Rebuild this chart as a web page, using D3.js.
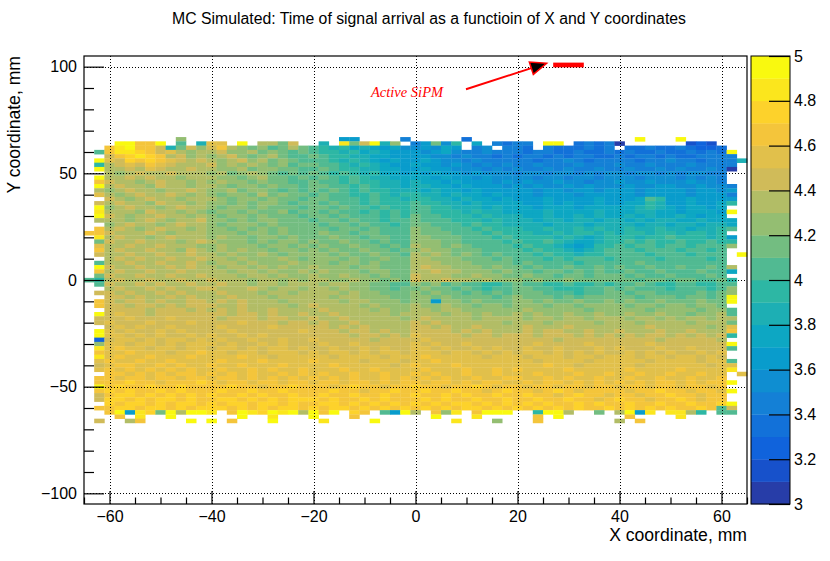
<!DOCTYPE html>
<html>
<head>
<meta charset="utf-8">
<script src="https://cdn.jsdelivr.net/npm/d3@7"></script>
<style>
  body { margin: 0; background: #fff; }
  svg { display: block; }
  text { font-family: "Liberation Sans", Arial, Helvetica, sans-serif; }
</style>
</head>
<body>
<div id="chart"></div>
<script>
// ---- data ----
const chartTitle = "MC Simulated: Time of signal arrival as a functioin of X and Y coordinates";
const xTitle = "X coordinate, mm";
const yTitle = "Y coordinate, mm";
const xTicks = [-60, -40, -20, 0, 20, 40, 60];
const yTicks = [-100, -50, 0, 50, 100];
const zTicks = [3, 3.2, 3.4, 3.6, 3.8, 4, 4.2, 4.4, 4.6, 4.8, 5];

// one letter per 2x2 mm bin, A = 3.0-3.1 ... T = 4.9-5.0, '.' = empty
const levelCodes = "ABCDEFGHIJKLMNOPQRST";
const binSize = 2;
const firstXEdge = -65;   // left edge of first column
const topYEdge = 67;      // top edge of first row
const segLengths = [2, 10, 10, 10, 10, 10, 11, 2];
const rows = [
  ".. .......M.. .......... ...GG....E .....D.... .......... ..T...T.... ..",
  ".. .TTQQT.K.I PP.T.NNLO. .I.SLOTIM. EGLFJ.H.ED EE.TT.DEDE A......BCB. ..",
  ".. QSTQQOILOM OQNMLMKLNL KJIJHIHGHF FGFHG.EF.E ED.EDDDEDE .DDEDDEDCCD ..",
  ".K QSSRQOPNMN NOMMNLMLKL KJJIJHIHGG GFGHFEEFEE EDEEDDEDDE DEDDEDDEDED T.",
  ".. OQRSRQNOMN MNOMLMNLKK LKJJIIHHGG GGFFEFEEDE DEEDEDEEDD EDEEDEDDEEE E.",
  ".T PORQRQPONO NMNOMNLMLK KKJIJIHGHG GHGFFEFEEE EEDEEFEDEE EEDEEFEEDEE EI",
  ".J NOPOQPONNN OMNMNMLMKL LKKJIJIHGG HGGFGFEFEF EEFEEEFEEE FEEFEEEFEEE E.",
  ".T NNONPONNON NMMNLMMLLK KLKJJIIHHG GHGGFFFEFE FEEFEFEEFE EFEEFEFEEFE A.",
  ".. NMNONNONNN MNLMNMLKLK LKJKJIJHHG HGHGGFGFFF EFFEFFEFEF FEFFEFEFFEE ..",
  ".T NNONONNMNN NMMLMNLLKL KLKJKJIIHH HHGHGGFGFF FFEFFEFFEF FFEFFFEFEFE ..",
  ".Q ONNMNONNMN MNMMLMLLKK LKKJKJJIIH IHHGHGGGFG FGFFGFFEFF GFFGFFFGFFE ..",
  ".T NONNMONNMN NMLMMLMLLK LLKKJKJIIH IIHHGHGGGF GFGFFGFGFF FGFFGGFFGFF E.",
  ".N MNONNMNNON MMNLMMLKLK LKLKJKJJII IHIHHGHGGG GGFGGFGGFG GGFGGGGFGGF G.",
  ".P NMNONNONMN MLMMLNLMLL KLKKJJKJIJ JIIHIHHGHG GGFGGGFGGG GGFGGGGFGGG E.",
  ".. ONMNONNMNN NMLMMLMLLK LLKKKJKJJI JJIIHIHHGH GGGHGGGGHG GGHKJGGHGGG G.",
  ".O NONNMONNMN MMLMLMMLKL LKLKKJKJJJ KJJIIHIHHH HGGHGHGGHG GHHJIGGHGGH J.",
  ".T MNONNMNONN MLMMLMLLLK LLKLKKJKJJ KKJJIIIHIH HHGHHHGHHH HHIJIHGHHGH ..",
  ".S NNNMONNMNM LMMLMLLMKL LKLKKJKJKJ KKJJJIJIIH HHHIHHHHIH HHIIHHGHHHG T.",
  ".T ONMNNONNMN MLMMLMLLLK LLKLKKKJKJ LKKJJJIJII IHHIHHIHIH HIHIHHIHGHH ..",
  ".N NNMNONMNNO MMLMLMMLLL KLLKLKKJKK LKKKJJJIJI IIHIIHIIHI IHIHIIHHIHH H.",
  ".. MNONNMNONN MLMMMLMLLL LKLLKLKKJK LLKKKJKJJI IIIHIIIHII IIHIIHIIHII H.",
  ".Q NONMNONNMN MMLMLMLMLL LLKLLKLKKK MLLKKKJKJJ JIIJIIJIJI IJIIJIIHIIJ K.",
  "QQ ONNNONMNNN MMMLMMLMLL LMLLKLLKKK MLLLKKKJKJ JJIIJIJJIJ IJJIJJIJJIJ ..",
  ".S NONNMNONNN MNMMLMMLML LLMLLKLLKK MMLLLKKKJK JJJJIJIHIJ JJIJJKJJJIJ G.",
  ".L ONNONNNMNO NMMMLMLMML MLLMLLKLKK MMMLLKKKKJ KJJKJIHHIJ JKJKJJKJJKJ J.",
  ".P NNONNONNNM MNMMMLMMLM LMLLMLLKLK NMMLMLKKKK JKJJIHGHJJ KJKKJKKJKKK M.",
  ".Q NONNONNMON MNMNMMLMML MLMLLMLLKL MNMMLLLKKK KJKJJIHIJK KKJKKKJKKJK ..",
  ".O NNONNONNON NMNMMNMLMM MMLMLLMLLK NMNMLMLKLK KKJKJJIJJK KKKJKKKJKKK .T",
  ".. NONONNONNO NNMNMMMNML MMMLMLLMLL NNMMMLLLKL KKKJKJKKKJ KKKKJKKKKJK ..",
  ".K NNONNONNON MNNMNMMMNM MMLMMLMLLL NNNMMMLLLL KLKKKKJKKK KKLKKKKKKKK ..",
  ".T ONNONNONON NMNNMNMNMM NMMMLMMLLL NONNMMMLML LKLKKLKKLK LKKLKKLKKLK N.",
  ".Q NONNONNONN NNMNNMNMMN MNMMMLMMLL NNONNMMMLM LLKLLKLKLK KLKKLKKKLKK H.",
  ".L ONNONNONNO NNNMNNMNMM NMMNMMLMLL ONNNMMNMML LMLLKLLKLL LKLKKLKKKLK ..",
  "KJ NONNONNONN ONNNMNNMNM NNMMNMMLML ONNONNMNMM MLMLLMLLLL LLKLLKLLKKL J.",
  ".K ONNONONNON NONNMNNMNN NMNNMMLLKK MLMKLKKJJK LKKJJKJJKJ KKLKJJKKJJK K.",
  ".. NONNONONNO ONNNONMNNM NNMNMMLLKL LMLLKLKJKK LLKKJJJKKL KLKKKJKKKJK M.",
  ".O ONONNONONN NONNNMNNMN NNNMNMMLLL MLMLLKLKLK LLLKKKJKKL LKLLKKKKLKL M.",
  ".. OONONNONON NNONNNMNNN NNMNNMMMLL MMLMLLLLKL MLLLKLKLLL LLKLLLKLLKL T.",
  ".Q ONOONONNOO NONONNNMNN NNNMNNMMML MMGMMLMLLL MMLMLLMLLM LMLLMLLLMLL T.",
  ".Q OONOONONOO ONNONNNNMN ONNNNMNMMM NMMNMMLMML MMMLMMLMMM MLMMLMMLMML ..",
  ".. OOOONOOONO NONONNONNN NONNNNMNMM NNMNNMMMMM MNMMMMMLMM MMMLMMMMLMM K.",
  ".T OPOONOOOOO OONOONONNO NNONNNNNMN NNNMNNMNMM NMNMMNMMNM MNMMNMMLMMN K.",
  ".O OOPOOOPOOO ONOOONOONN ONNONNNNNM NONNNNMNNN NMNNMNNMNN NMNNMNMNNMN N.",
  ".O POOOPOOOPO OOOPOOONOO NONNONNNNN ONONNNNNNM NNNMNNNNMN NNMNNNNMNNN L.",
  ".. OPOPOOPOOO OPOOOOPOOO OONONONNNN OONONNONNN NONNNONNNN NNNONNNNNMN P.",
  ".T POPOOPOPOO OOPOOOOOOP OOONOONONN OOOONONONN NONOONNONN ONNNONNONNN Q.",
  ".T PPOPOPOOPO POOPOPOOOO OOOONOONON POOOONOONO OONOOONONO NONOONONONO J.",
  ".C OPPOPOPPOP OPOOPOOPOO POOOOONOOO OPOOOOOOOO OOOONOOOOO OOOONOOOOON ..",
  ".M PPOPPOPOPP POPOOPOPOO OPOOPOOOOO POPOOPOOOO OOPOOOOPOO OOOPOOOOOOO T.",
  ".S PQPPOPPOPP OPPOPOPPOP OOPOOPOPOO PPOPOOPOPO OPOOPOOOPO POOOPOOPOOO K.",
  ".Q PPQPPPOPPQ PPOPPOPPPO POPPOPOPPO PPPOPPOPOP OPPOPOPOPO OPOPOPOOPOP ..",
  ".S PQPPQPPPQP PPPQPPOPPP PPOPPPPOPP PQPPPPPOPP POPPPOPPOP PPOPPOPPOPO ..",
  ".P QPPQPPQPPP PQPPPQPPPP QPPPPOPPPO PPQPPPPPPP PPOPPPPOPP PPPOPPPPOPP K.",
  ".O PQQPPQPQPP QPPQPPPQPP PPQPPPPPOP QPPPQPPPPP PPPQPPOPPP PPOPPPPPPOP P.",
  ".P QPQPQPQPQP PQPPQPQPPQ PPPQPPQPPP PQPPPQPPQP QPPPPQPPPP PQPPPPQPPPP S.",
  ".. QQPQPQPQQP QPQPQPPQPQ PQPPQPPQPP QPQPPQPPQP PPQPPPQPPQ PPQPPQPPQPP .P",
  ".Q QPQQPQQPQQ PQQPQPQPQP QPQPQPPQPQ PQPQPPQPPQ QPPQPQPPQP PQPPQPPQPPQ ..",
  ".Q QQRQQPQQQR QPQQPQQPQQ PQQPQQPQPQ QPQQPQPQQP PQPQQPQPQP QPQPQQPQPQQ T.",
  ".T QRQQRQQRQQ QQRQQPQQRQ QQPQRQQPQQ RQQPQQRQPQ QPQQPQQPQQ PQQPQQPQQPQ ..",
  ".Q RQRQQRQRQQ QRQQRQQRQQ QQRQQPQQRQ QRQQRQQPQR QQPQRQPQQQ QPQQRQQPQQP T.",
  ".O QRRQRQRQRQ RQQRQRQQRQ QRQQRQQRQQ RQQRQRQQRQ QRQQPQRQQP QQPQQRQQPQQ ..",
  ".O RRQRQRRQRQ QRRQRQRQRR RQRQQRQRQQ QRQRQQRQQR QQRQQRQQPQ RQQPQQRQPQQ ..",
  ".. RQRRQRQRRQ RQRRQRRQRQ QRRQRQRQRQ RQRQRRQRQR QRQRQQRQRQ QRQQRQQRQQR T.",
  ".Q QRRQRRQRQR RRQRQRQRRQ RQRRQRQRQR QRQRQRRQRQ RQRQRQRQQR QRQRQRQQRQK O.",
  ".. QTGSRLTNTT S.QTSRTSTN TQT.RQ.KGT N.QMS.QTTT ..JTTN..L. NTGS.SSNJ.K K.",
  ".. .Q.S..T... ...T..S... T...Q..... ..T...S... ..Q.T..... .Q....S.... ..",
  ".O ..NQ....T. T.Q...T... .S....T... ....S...M. ..Q....... N.Q........ .."
];

// ROOT kBird palette stops
const birdStops = [0.0, 0.125, 0.25, 0.375, 0.5, 0.625, 0.75, 0.875, 1.0];
const birdRed   = [0.2082, 0.0592, 0.0780, 0.0232, 0.1802, 0.5301, 0.8186, 0.9956, 0.9764];
const birdGreen = [0.1664, 0.3599, 0.5041, 0.6419, 0.7178, 0.7492, 0.7328, 0.7862, 0.9832];
const birdBlue  = [0.5293, 0.8684, 0.8385, 0.7914, 0.6425, 0.4662, 0.3499, 0.1968, 0.0539];

// annotation
const sipmLabel = "Active SiPM";

// ---- layout ----
const W = 830, H = 561;
const frame = { left: 84, right: 747, top: 56, bottom: 504 };
const paletteBox = { left: 751, right: 790 };

const svg = d3.select("#chart").append("svg")
  .attr("width", W).attr("height", H)
  .attr("viewBox", `0 0 ${W} ${H}`);

const x = d3.scaleLinear().domain([-65, 65]).range([frame.left, frame.right]);
const y = d3.scaleLinear().domain([-105, 105]).range([frame.bottom, frame.top]);
const z = d3.scaleLinear().domain([3, 5]).range([frame.bottom, frame.top]);

// palette colours: 20 contour bands as ROOT picks them from a 255-colour gradient
const bird = d3.scaleLinear().domain(birdStops)
  .range(birdStops.map((_, i) => d3.rgb(birdRed[i] * 255, birdGreen[i] * 255, birdBlue[i] * 255)))
  .interpolate(d3.interpolateRgb);
const nBands = 20;
const bandColors = d3.range(nBands).map(i => bird(Math.floor((i + 0.99) * 255 / nBands) / 255));
const zColor = d3.scaleQuantize().domain([3, 5]).range(bandColors);

// ---- parse the bins ----
const cells = [];
rows.forEach((line, r) => {
  const segs = line.split(" ");
  const full = segLengths.map((n, i) => ((segs[i] || "") + ".".repeat(n)).slice(0, n)).join("");
  for (let c = 0; c < full.length; c++) {
    const L = levelCodes.indexOf(full[c]);
    if (L < 0) continue;
    const x0 = firstXEdge + c * binSize;
    const yTop = topYEdge - r * binSize;
    cells.push({ x0, x1: x0 + binSize, y1: yTop, y0: yTop - binSize, v: 3 + 0.1 * L + 0.05 });
  }
});

svg.append("g").attr("class", "cells")
  .selectAll("rect").data(cells).enter().append("rect")
  .attr("x", d => x(d.x0))
  .attr("y", d => y(d.y1))
  .attr("width", d => x(d.x1) - x(d.x0) + 0.3)
  .attr("height", d => y(d.y0) - y(d.y1) + 0.3)
  .attr("fill", d => zColor(d.v));

// ---- grid (dotted, drawn over the histogram) ----
const grid = svg.append("g").attr("class", "grid")
  .attr("stroke", "#000").attr("stroke-width", 1).attr("stroke-dasharray", "1,2")
  .attr("shape-rendering", "crispEdges");
grid.selectAll(".gx").data(xTicks).enter().append("line")
  .attr("x1", d => Math.round(x(d)) + 0.5).attr("x2", d => Math.round(x(d)) + 0.5)
  .attr("y1", frame.top).attr("y2", frame.bottom);
grid.selectAll(".gy").data(yTicks).enter().append("line")
  .attr("y1", d => Math.round(y(d)) + 0.5).attr("y2", d => Math.round(y(d)) + 0.5)
  .attr("x1", frame.left).attr("x2", frame.right);

// ---- frame ----
svg.append("rect")
  .attr("x", frame.left).attr("y", frame.top)
  .attr("width", frame.right - frame.left).attr("height", frame.bottom - frame.top)
  .attr("fill", "none").attr("stroke", "#000").attr("stroke-width", 1.2);

// ---- axes: ROOT style ticks pointing into the frame ----
function styleAxis(g, fontSize) {
  g.select(".domain").remove();
  g.selectAll(".tick line").attr("stroke", "#000").attr("stroke-width", 1.2);
  g.selectAll(".tick text").attr("fill", "#000")
    .style("font-family", '"Liberation Sans", Arial, sans-serif')
    .style("font-size", fontSize + "px");
}

const xMinor = d3.range(-65, 66, 5).filter(v => !xTicks.includes(v));
svg.append("g").attr("transform", `translate(0,${frame.bottom})`)
  .call(d3.axisBottom(x).tickValues(xMinor).tickSize(-6.5).tickFormat(""))
  .call(g => styleAxis(g, 16));
svg.append("g").attr("transform", `translate(0,${frame.bottom})`)
  .call(d3.axisBottom(x).tickValues(xTicks).tickSize(-13).tickPadding(7))
  .call(g => styleAxis(g, 16));

const yMinor = d3.range(-100, 101, 10).filter(v => !yTicks.includes(v));
svg.append("g").attr("transform", `translate(${frame.left},0)`)
  .call(d3.axisLeft(y).tickValues(yMinor).tickSize(-10).tickFormat(""))
  .call(g => styleAxis(g, 16));
svg.append("g").attr("transform", `translate(${frame.left},0)`)
  .call(d3.axisLeft(y).tickValues(yTicks).tickSize(-20).tickPadding(7))
  .call(g => styleAxis(g, 16));

// axis titles (right/top aligned as in ROOT)
svg.append("text")
  .attr("x", frame.right).attr("y", 541)
  .attr("text-anchor", "end")
  .style("font-size", "17.6px")
  .text(xTitle);
svg.append("text")
  .attr("transform", `translate(20,${frame.top}) rotate(-90)`)
  .attr("text-anchor", "end")
  .style("font-size", "17.6px")
  .text(yTitle);

// title
svg.append("text")
  .attr("x", 429).attr("y", 24)
  .attr("text-anchor", "middle")
  .style("font-size", "15.8px")
  .text(chartTitle);

// ---- colour palette ----
const bandEdges = d3.range(nBands + 1).map(i => 3 + i * 0.1);
svg.append("g").attr("class", "palette")
  .selectAll("rect").data(d3.range(nBands)).enter().append("rect")
  .attr("x", paletteBox.left)
  .attr("width", paletteBox.right - paletteBox.left)
  .attr("y", i => z(bandEdges[i + 1]))
  .attr("height", i => z(bandEdges[i]) - z(bandEdges[i + 1]) + 0.3)
  .attr("fill", i => bandColors[i]);
svg.append("rect")
  .attr("x", paletteBox.left).attr("y", frame.top)
  .attr("width", paletteBox.right - paletteBox.left).attr("height", frame.bottom - frame.top)
  .attr("fill", "none").attr("stroke", "#000").attr("stroke-width", 1);
svg.append("g").attr("transform", `translate(${paletteBox.right},0)`)
  .call(d3.axisRight(z).tickValues(zTicks).tickSize(-21).tickPadding(4)
    .tickFormat(d => String(+d.toFixed(1))))
  .call(g => styleAxis(g, 16));

// ---- annotation: active SiPM ----
svg.append("rect")
  .attr("x", x(27)).attr("width", x(33) - x(27))
  .attr("y", y(101.9)).attr("height", y(99.7) - y(101.9))
  .attr("fill", "#ff0000");

const a0 = [x(9.9), y(89.4)], a1 = [x(25.7), y(101.6)];
const ang = Math.atan2(a1[1] - a0[1], a1[0] - a0[0]);
const headLen = 16, headHalf = 6.5;
const base = [a1[0] - headLen * Math.cos(ang), a1[1] - headLen * Math.sin(ang)];
svg.append("line")
  .attr("x1", a0[0]).attr("y1", a0[1]).attr("x2", base[0]).attr("y2", base[1])
  .attr("stroke", "#ff0000").attr("stroke-width", 2);
svg.append("path")
  .attr("d", d3.line()([
    a1,
    [base[0] + headHalf * Math.sin(ang), base[1] - headHalf * Math.cos(ang)],
    [base[0] - headHalf * Math.sin(ang), base[1] + headHalf * Math.cos(ang)]
  ]) + "Z")
  .attr("fill", "#000").attr("stroke", "#ff0000").attr("stroke-width", 1.5)
  .attr("stroke-linejoin", "miter");

svg.append("text")
  .attr("x", 371).attr("y", 97)
  .attr("fill", "#ff0000")
  .style("font-family", '"Liberation Serif", "Times New Roman", serif')
  .style("font-style", "italic")
  .style("font-size", "14.5px")
  .text(sipmLabel);
</script>
</body>
</html>
